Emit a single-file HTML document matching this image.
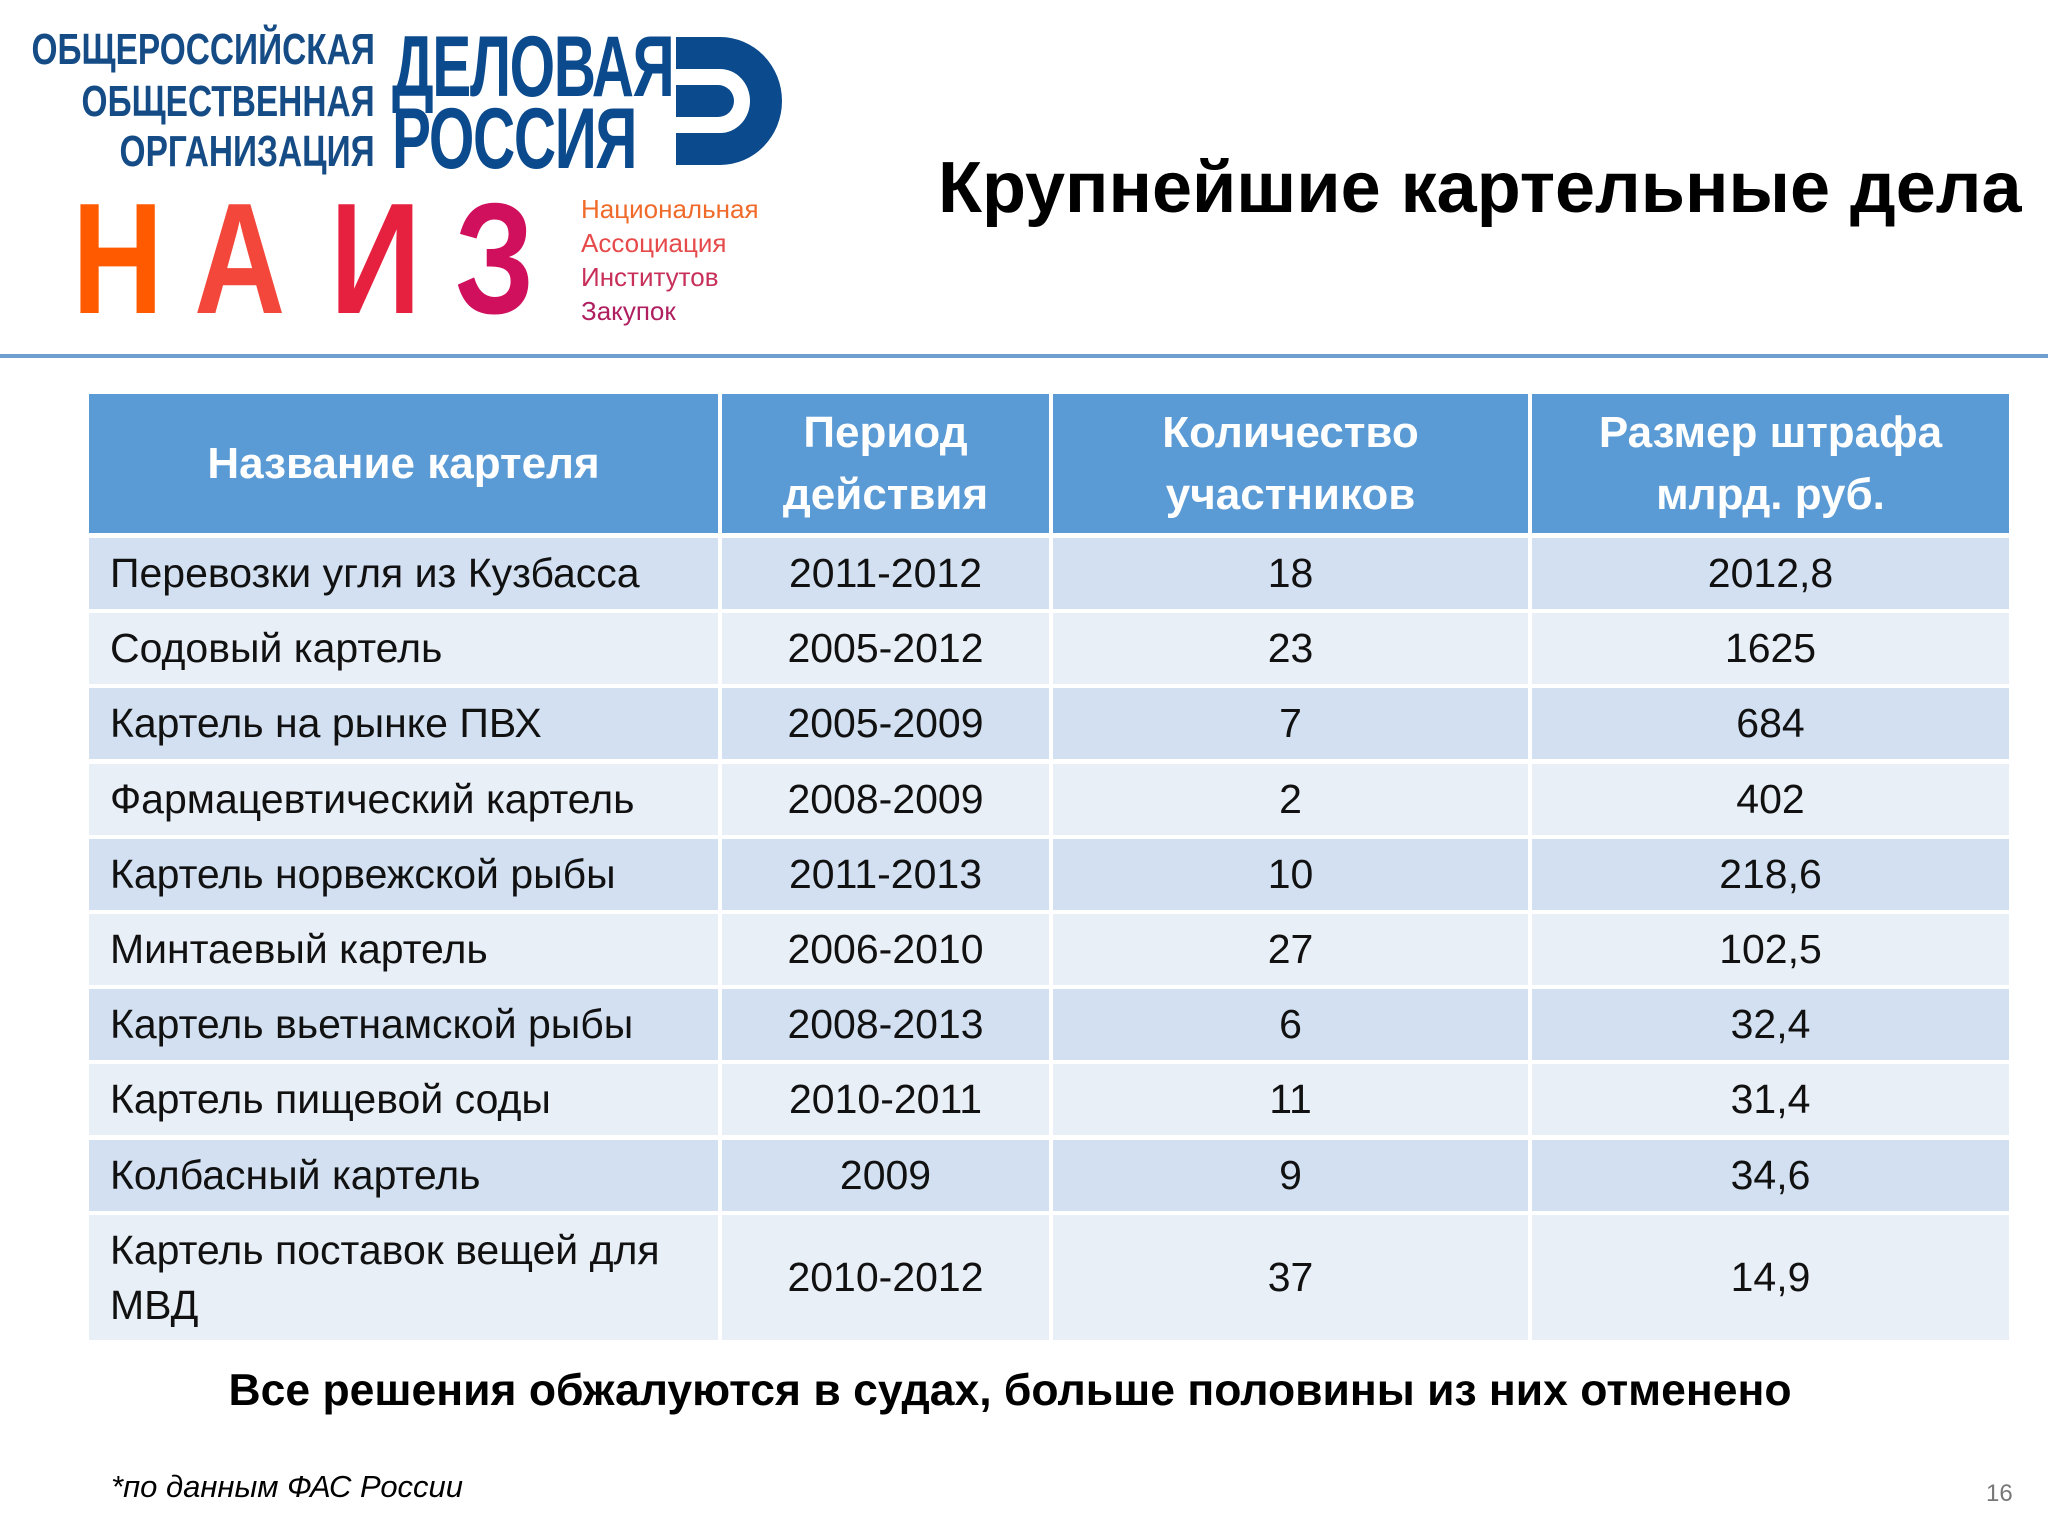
<!DOCTYPE html>
<html><head><meta charset="utf-8">
<style>
body{margin:0;width:2048px;height:1536px;background:#fff;position:relative;overflow:hidden;font-family:"Liberation Sans","DejaVu Sans",sans-serif}
.a{position:absolute}
.c{position:absolute;display:flex;align-items:center;justify-content:center;font-size:41px;color:#111;box-sizing:border-box;text-align:center;line-height:1.33}
.l{justify-content:flex-start;padding-left:21px;padding-right:10px;text-align:left}
.h{background:#5b9bd5;color:#fff;font-weight:bold;font-size:44px;line-height:1.4}
.o{background:#d2e0f1}.e{background:#e9eff7}
.org{font-weight:bold;color:#154c86;font-size:44px;white-space:nowrap;transform-origin:right top;transform:scaleX(0.76);right:1673px;line-height:1}
.dr{font-weight:bold;color:#0b4a8c;font-size:86px;line-height:1;white-space:nowrap;transform-origin:left top;transform:scaleX(0.68);left:392px;letter-spacing:-2px}
.nz{font-size:158px;font-weight:bold;line-height:1;top:180px;transform-origin:left top;transform:scaleX(0.8)}
.sm{left:581px;font-size:26px;line-height:1}
</style></head><body>
<div class="a org" style="top:28px">ОБЩЕРОССИЙСКАЯ</div>
<div class="a org" style="top:80px">ОБЩЕСТВЕННАЯ</div>
<div class="a org" style="top:130px">ОРГАНИЗАЦИЯ</div>
<div class="a dr" style="top:24px">ДЕЛОВАЯ</div>
<div class="a dr" style="top:96px">РОССИЯ</div>
<svg class="a" style="left:670px;top:33px" width="112" height="136">
<path d="M6 4 H50 A62 64 0 0 1 50 132 H6 V100 H50 A30 32 0 0 0 50 36 H6 Z" fill="#0b4a8c"/>
<path d="M6 52 H48 A16 16 0 0 1 48 84 H6 Z" fill="#0b4a8c"/>
</svg>
<div class="a nz" style="left:72px;color:#ff5a00">Н</div>
<div class="a nz" style="left:194px;color:#f2473a">А</div>
<div class="a nz" style="left:330px;color:#e6213f">И</div>
<div class="a nz" style="left:455px;color:#d0105c">З</div>
<div class="a sm" style="top:196px;color:#f06a2a">Национальная</div>
<div class="a sm" style="top:230px;color:#e64a4a">Ассоциация</div>
<div class="a sm" style="top:264px;color:#c8305a">Институтов</div>
<div class="a sm" style="top:298px;color:#b02060">Закупок</div>
<div class="a" style="left:938px;top:152px;font-size:72px;font-weight:bold;color:#000;white-space:nowrap;line-height:1">Крупнейшие картельные дела</div>
<div class="a" style="left:0;top:354px;width:2048px;height:4px;background:#6f9fd0"></div>

<div>
<div class="c h" style="left:89px;top:394px;width:629px;height:139px">Название картеля</div>
<div class="c h" style="left:722px;top:394px;width:327px;height:139px">Период<br>действия</div>
<div class="c h" style="left:1053px;top:394px;width:475px;height:139px">Количество<br>участников</div>
<div class="c h" style="left:1532px;top:394px;width:477px;height:139px">Размер штрафа<br>млрд. руб.</div>
</div>
<div id="rows"></div>
<script>
const names=["Перевозки угля из Кузбасса","Содовый картель","Картель на рынке ПВХ","Фармацевтический картель","Картель норвежской рыбы","Минтаевый картель","Картель вьетнамской рыбы","Картель пищевой соды","Колбасный картель","Картель поставок вещей для МВД"];
const periods=["2011-2012","2005-2012","2005-2009","2008-2009","2011-2013","2006-2010","2008-2013","2010-2011","2009","2010-2012"];
const counts=["18","23","7","2","10","27","6","11","9","37"];
const fines=["2012,8","1625","684","402","218,6","102,5","32,4","31,4","34,6","14,9"];
const cols=[[89,629],[722,327],[1053,475],[1532,477]];
const root=document.getElementById('rows');
for(let i=0;i<10;i++){
  const top=Math.round(538+75.2*i);
  const h=i<9?71:125;
  const vals=[names[i],periods[i],counts[i],fines[i]];
  for(let j=0;j<4;j++){
    const d=document.createElement('div');
    d.className='c '+(i%2?'e':'o')+(j===0?' l':'');
    d.style.cssText=`left:${cols[j][0]}px;top:${top}px;width:${cols[j][1]}px;height:${h}px`;
    d.textContent=vals[j];
    
    
    root.appendChild(d);
  }
}
</script>
<div class="a" style="left:-14px;width:2048px;top:1364px;text-align:center;font-size:44.5px;font-weight:bold;color:#000;line-height:1.2">Все решения обжалуются в судах, больше половины из них отменено</div>
<div class="a" style="left:111px;top:1469px;font-size:31px;font-style:italic;color:#000">*по данным ФАС России</div>
<div class="a" style="left:1986px;top:1480px;font-size:24px;color:#777">16</div>
</body></html>
